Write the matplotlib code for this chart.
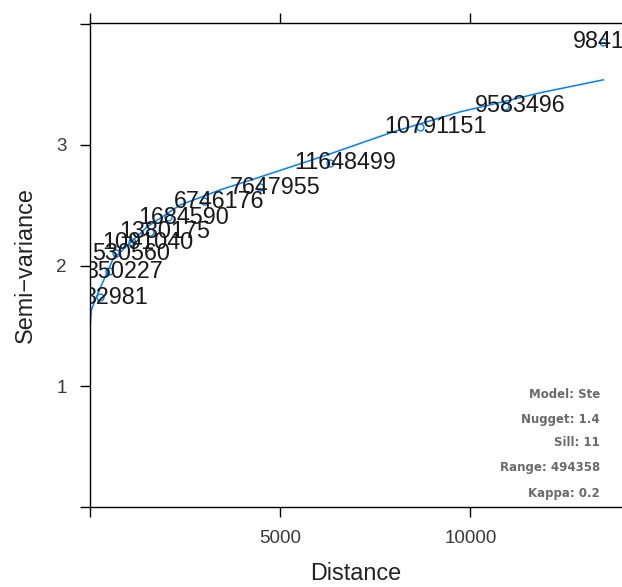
import matplotlib.pyplot as plt

plt.rcParams['font.family'] = ['Liberation Sans', 'DejaVu Sans']

# 経験バリオグラム（距離, セミバリアンス, ペア数）
dist = [276, 504, 696, 1116, 1581, 2061, 3007, 4478, 6316, 8679, 10911, 13485]
gamma = [1.739, 1.954, 2.104, 2.195, 2.280, 2.402, 2.535, 2.651, 2.851, 3.149, 3.324, 3.855]
npairs = ["32981", "350227", "530560", "1091040", "1380175", "1684590", "6746176",
          "7647955", "11648499", "10791151", "9583496", "9841302"]

# モデル曲線
model_x = [5, 47, 223, 617, 1510, 2377, 3427, 4478, 6237, 7970, 9730, 10518, 11831, 13485]
model_y = [1.44, 1.631, 1.772, 2.054, 2.320, 2.502, 2.627, 2.734, 2.917, 3.108, 3.274, 3.332, 3.432, 3.539]

model_info = ["Model: Ste", "Nugget: 1.4", "Sill: 11", "Range: 494358", "Kappa: 0.2"]

blue = "#0080ff"
W, H = 622, 587

fig = plt.figure(figsize=(W / 100, H / 100), dpi=100)
left, right, top, bottom = 89.5, 622.5, 23, 507
ax = fig.add_axes([left / W, 1 - bottom / H, (right - left) / W, (bottom - top) / H])

ax.plot(model_x, model_y, color=blue, lw=1.1)
ax.plot(dist, gamma, "o", mfc="none", mec=blue, ms=5, mew=1)

# ペア数のラベル（点の少し右に中央揃え）
off = 0.03 * max(dist)
for x, y, n in zip(dist, gamma, npairs):
    ax.text(x + off, y, n, ha="center", va="center", fontsize=16.8, color="#1a1a1a", clip_on=True)

ax.set_xlim(0, 13990)
ax.set_ylim(0, 4.01)
ax.set_xticks([0, 5000, 10000])
ax.set_xticklabels(["", "5000", "10000"])
ax.set_yticks([0, 1, 2, 3, 4])
ax.set_yticklabels(["", "1", "2", "3", ""])
ax.tick_params(direction="out", length=7.5, width=1, top=True, right=True,
               labelsize=13.5, labelcolor="#3a3a3a", pad=9)
for s in ax.spines.values():
    s.set_linewidth(1)

ax.set_xlabel("Distance", fontsize=16.8, color="#222222", labelpad=11)
ax.set_ylabel("Semi\u2212variance", fontsize=16.8, color="#222222", labelpad=14)

# モデル情報（右下）
ys = [395, 420, 443, 468, 493]
for t, py in zip(model_info, ys):
    ax.text((600 - left) / (right - left), (bottom - py) / (bottom - top), t,
            transform=ax.transAxes, ha="right", va="center", fontsize=8.5,
            fontweight="bold", family="DejaVu Sans", color="#6a6a6a")

fig.savefig("out.png", dpi=100)
